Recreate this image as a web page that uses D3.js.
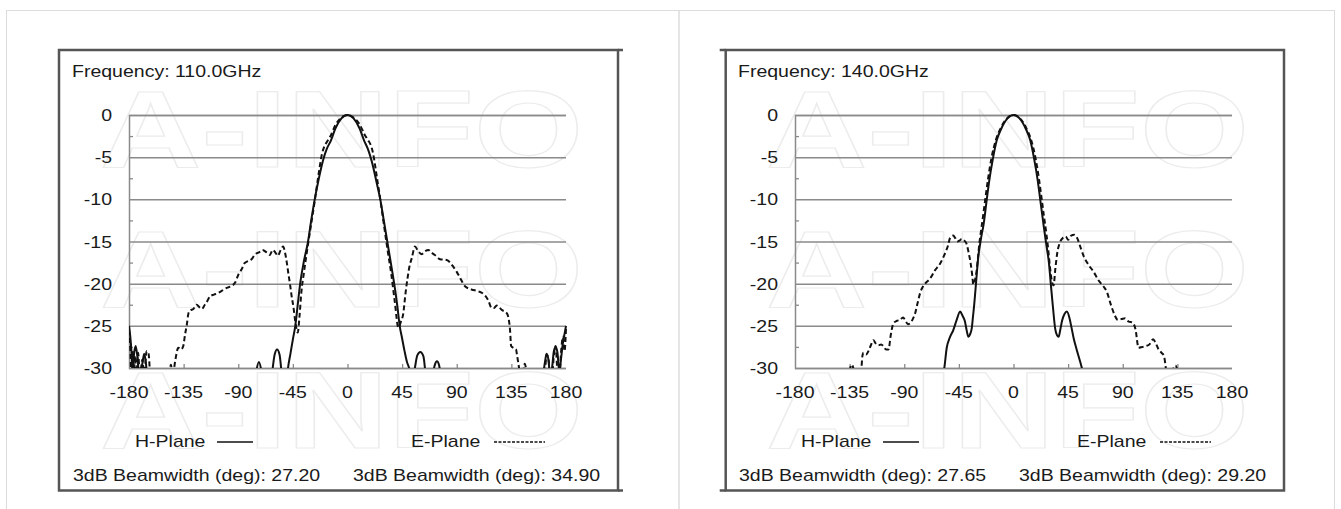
<!DOCTYPE html>
<html>
<head>
<meta charset="utf-8">
<script src="https://cdn.jsdelivr.net/npm/d3@7"></script>
<style>
  body { margin: 0; background: #fff; }
  svg text { font-family: "Liberation Sans", Arial, sans-serif; fill: #1a1a1a; }
</style>
</head>
<body>
<div id="chart"></div>
<script>
// tick values
var yTicks = [0, -5, -10, -15, -20, -25, -30];
var yMinor = [-2.5, -7.5, -12.5, -17.5, -22.5, -27.5];
var xTicks = [-180, -135, -90, -45, 0, 45, 90, 135, 180];

// panel texts
var freqLabels = ["Frequency: 110.0GHz", "Frequency: 140.0GHz"];
var legendNames = ["H-Plane", "E-Plane"];
var hBeamwidth = ["27.20", "27.65"];
var eBeamwidth = ["34.90", "29.20"];

// 110 GHz, [angle deg, dB]  (values under -30 are off the chart)
var h110 = [[-180,-25],[-179,-26.2],[-178,-28],[-177,-31],[-176,-28.6],[-174.5,-27.4],[-173,-28.8],[-171.5,-31],[-169,-29.5],[-167.5,-28.3],[-166,-29.5],[-164.5,-32],[-160,-34],
  [-80,-34],[-76,-31],[-73,-29.3],[-70,-31],[-66,-34],[-62.5,-31],[-60,-28.4],[-58,-27.8],[-56,-28.4],[-54,-31],[-51.5,-34],[-49,-30],[-47,-28.3],[-45,-26.6],[-43,-25],[-41,-22.5],[-39,-20],[-36,-17.4],[-32.5,-15],[-30,-12.6],[-27,-10],[-24,-7.8],[-20,-5.3],[-17,-4],[-13.6,-3],[-10,-1.6],[-5,-0.4],[0,0],
  [5,-0.4],[10,-1.6],[13.6,-3],[17,-4.1],[20,-5.5],[24,-8],[27,-10],[30,-12.6],[33,-15.2],[36,-17.8],[39,-20.5],[41,-22.6],[43,-25],[45,-26.5],[47,-28],[49,-29.3],[50.7,-30],[53,-32],[55.5,-30],[57.5,-28.5],[60,-28.1],[62.5,-28.6],[64.5,-31],[67,-34],[70,-31],[72,-29.6],[73.7,-29.2],[75.5,-29.7],[77.5,-32],[80,-34],
  [158,-34],[161,-31],[163,-29],[164,-28.3],[165.5,-29],[167,-31],[168.5,-30],[170,-28],[171.5,-27.5],[173,-28.2],[174.5,-30.5],[176,-28.8],[177.5,-27],[179,-25.8],[180,-25]];

var e110 = [[-180,-25.5],[-179,-27.5],[-178,-31],[-177,-28],[-176,-31],[-175,-28.6],[-174,-31],[-172.5,-28.2],[-171,-31],[-169,-29],[-167.5,-31],[-165.5,-28],[-164,-28.2],[-162.5,-31],[-160,-34],
  [-150,-34],[-147,-31],[-145.5,-29.6],[-144,-31],[-142,-29.2],[-139.4,-27.6],[-137,-27.8],[-135.3,-27.4],[-133.8,-26],[-132.5,-25],[-131,-23.5],[-129.7,-23.2],[-127,-23],[-124.2,-22.5],[-122,-22.8],[-120,-23],[-117.5,-22.5],[-116,-22.2],[-113.3,-21.5],[-110,-21.3],[-106.4,-21.1],[-103,-20.8],[-99.5,-20.5],[-96,-20.3],[-92.7,-19.9],[-89.5,-18.8],[-87.2,-18.3],[-85,-17.6],[-83,-17.4],[-79,-17.1],[-76,-16.5],[-72.9,-16.3],[-70,-16],[-66.6,-16.3],[-64,-16.6],[-61.6,-16],[-59,-16.4],[-57.5,-16.7],[-55,-16],[-53,-15.6],[-51.5,-16.3],[-50,-17.5],[-48.5,-19],[-47.4,-20],[-46,-21.5],[-44.6,-22.7],[-43,-24.5],[-41,-25.8],[-39.5,-23.8],[-38,-21],[-36,-18.8],[-33,-15.8],[-30,-13],[-27,-10.2],[-24,-7.2],[-21,-4.6],[-19,-3.7],[-17,-3.2],[-14,-2.5],[-10,-1.2],[-5,-0.3],[0,0],
  [5,-0.3],[10,-1.1],[14,-2.3],[17,-3],[19,-3.5],[21,-4.5],[24,-7.2],[27,-10],[30,-13],[33,-16],[36,-18.8],[39,-22.2],[41.9,-25.2],[44,-24.5],[46,-23.5],[47.5,-21.5],[49.3,-19.5],[51,-18],[52.9,-17],[55.6,-15.6],[58,-16.1],[61,-16.5],[63.5,-16.2],[66.6,-16],[69,-16.3],[72,-16.6],[76.2,-17.1],[81.7,-17.2],[84.5,-17.5],[87.2,-18],[90,-18.6],[92.7,-19.3],[96.8,-20.3],[102.3,-20.7],[107.8,-20.9],[113.3,-21.4],[116,-22],[118.8,-22.9],[120.5,-22.9],[122.9,-22.6],[125,-22.8],[127,-23.1],[131.2,-23.5],[132.8,-24.2],[133.9,-25.5],[134.8,-27.4],[136.5,-27.6],[138.8,-27.8],[139.8,-28.6],[140.7,-29.4],[142,-30.5],[144,-31],[146,-29.5],[148,-31],[151,-34],
  [160,-34],[162.5,-31],[164,-28.4],[165.5,-28.8],[167,-31],[168.5,-31],[170,-28.5],[171.5,-27.4],[173,-30.5],[174.5,-31],[176,-28],[177.5,-26.3],[178.8,-28],[180,-25.3]];

// 140 GHz
var h140 = [[-180,-34],[-62,-34],[-59,-31.5],[-57,-30],[-55,-27.6],[-52.5,-26.4],[-49.6,-25.5],[-46.8,-24.3],[-44,-23.3],[-42,-23.8],[-40,-24.5],[-38.5,-25.6],[-37.2,-26.3],[-35.8,-26],[-34.4,-25.3],[-33.3,-23.8],[-32.5,-22.7],[-31.6,-21.2],[-30.9,-20],[-29,-16.8],[-27.5,-15.3],[-26,-14],[-25,-13.3],[-22,-10],[-20,-7.8],[-17,-5.2],[-13.8,-3],[-10,-1.6],[-5,-0.4],[0,0],
  [5,-0.4],[10,-1.6],[13.8,-3],[17,-5.2],[20,-7.8],[22,-10],[25,-13.3],[27.5,-15.8],[29,-17.3],[30.9,-20.3],[32.5,-22.8],[34.4,-25.4],[35.8,-26.1],[37.2,-26.3],[38.5,-25.5],[40,-24.4],[42,-23.6],[44,-23.3],[46,-24],[47.5,-25],[49.6,-26.5],[52,-27.8],[55,-29.3],[57,-30.4],[60,-32.5],[63,-34],[180,-34]];

var e140 = [[-180,-34],[-140,-34],[-136,-31],[-133.3,-29.6],[-131,-30.5],[-128,-32],[-125.5,-30.5],[-124.5,-28.6],[-123.6,-28.2],[-121.5,-28.4],[-119.5,-28],[-117.5,-27.3],[-115.4,-26.7],[-113.5,-27.1],[-111.3,-27.3],[-109,-27.2],[-107.2,-27.4],[-105,-27.8],[-103,-27.8],[-101,-26],[-98.9,-24.7],[-96,-24.4],[-93.4,-24.3],[-91,-24],[-89.3,-24.3],[-87,-24.8],[-85.2,-24.7],[-83,-24.2],[-81,-23.5],[-79,-22.3],[-76.9,-21.1],[-74.8,-20.4],[-72.8,-20],[-68.7,-19.4],[-64.6,-18.4],[-60.4,-17.6],[-56.4,-16.4],[-54,-15.5],[-52.3,-14.6],[-49.6,-14.3],[-48,-14.6],[-46.3,-15],[-44.5,-14.9],[-42.7,-14.7],[-40.5,-14.9],[-38.6,-15.3],[-37,-16.3],[-35.3,-17.6],[-34,-19],[-33.1,-20.1],[-31.8,-19.6],[-30.3,-18.4],[-29.2,-16.8],[-28.1,-15.2],[-27,-14],[-25,-11.9],[-23,-9.7],[-21,-7.6],[-18,-5],[-14.6,-3],[-10,-1.4],[-5,-0.35],[0,0],
  [5,-0.35],[10,-1.4],[14.6,-3],[18,-5],[21,-7.6],[23,-9.7],[25,-11.9],[27,-14],[28.5,-15.8],[30,-18],[31.5,-19.6],[33,-20.2],[34.5,-18.2],[36,-16.4],[38,-15.2],[40.5,-14.6],[43,-14.4],[45,-14.8],[47.5,-14.3],[50,-14.2],[52.5,-14.6],[55,-15.6],[58,-16.8],[62,-17.8],[66,-18.6],[70,-19.6],[74,-20.3],[77,-21],[80,-22.4],[83,-23.6],[86,-24.3],[89,-24.2],[92,-24.1],[95,-24.5],[98,-24.6],[100.5,-25.4],[103,-27.6],[106,-27.5],[109,-27.4],[112,-27.2],[115,-26.6],[117,-27],[119.5,-27.8],[122,-28.2],[124,-28.6],[126,-30.5],[128,-31.5],[131,-30.3],[133.5,-29.7],[135,-30.3],[137,-32],[140,-34],[180,-34]];

var hSeries = [h110, h140];
var eSeries = [e110, e140];

var svgWidth = 1341, svgHeight = 509;
var svg = d3.select('#chart').append('svg')
  .attr('width', svgWidth)
  .attr('height', svgHeight);

// outer page frame + divider
svg.append('rect')
  .attr('x', 6.5).attr('y', 10.5).attr('width', 1328).attr('height', 520)
  .attr('fill', 'none').attr('stroke', '#dcdcdc').attr('stroke-width', 1);
svg.append('line')
  .attr('x1', 679).attr('x2', 679).attr('y1', 10).attr('y2', 509)
  .attr('stroke', '#dcdcdc').attr('stroke-width', 1.5);

var sx = 1.22; // text in the picture is stretched sideways

function txt(g, x, y, s, anchor) {
  return g.append('text')
    .attr('transform', 'translate(' + x + ',' + y + ') scale(' + sx + ',1)')
    .attr('text-anchor', anchor || 'start')
    .attr('font-size', 16)
    .text(s);
}

var plot = {left: 129, right: 566, top: 115, bottom: 368};
var panelShift = [0, 666];

panelShift.forEach(function(dx, i) {
  var g = svg.append('g').attr('transform', 'translate(' + dx + ',0)');

  var x = d3.scaleLinear().domain([-180, 180]).range([plot.left, plot.right]);
  var y = d3.scaleLinear().domain([-30, 0]).range([plot.bottom, plot.top]);

  // watermark
  [167, 307, 448].forEach(function(by) {
    g.append('text')
      .attr('x', 100).attr('y', by)
      .attr('font-size', 109).attr('font-weight', 'bold')
      .attr('textLength', 483).attr('lengthAdjust', 'spacingAndGlyphs')
      .style('fill', 'none').attr('stroke', '#ececec').attr('stroke-width', 1.2)
      .text('A-INFO');
  });

  // box
  var boxL = i === 0 ? 59 : 59.7, boxR = 618, boxT = 50, boxB = 490.5;
  g.append('rect')
    .attr('x', boxL).attr('y', boxT).attr('width', boxR - boxL).attr('height', boxB - boxT)
    .attr('fill', 'none').attr('stroke', '#555').attr('stroke-width', 2.5);
  var ext = i === 0 ? [boxR, boxR + 5] : [boxL - 6, boxL];
  [boxT, boxB].forEach(function(yy) {
    g.append('line').attr('x1', ext[0]).attr('x2', ext[1]).attr('y1', yy).attr('y2', yy)
      .attr('stroke', '#555').attr('stroke-width', 2.5);
  });

  // gridlines
  g.append('g')
    .attr('transform', 'translate(' + plot.left + ',0)')
    .call(d3.axisRight(y).tickValues(yTicks).tickSize(plot.right - plot.left).tickFormat(''))
    .call(function(a) {
      a.select('.domain').attr('stroke', '#8a8a8a').attr('stroke-width', 1.5);
      a.selectAll('.tick line').attr('stroke', '#8a8a8a').attr('stroke-width', 1.5);
    });
  // minor y ticks
  g.append('g')
    .attr('transform', 'translate(' + plot.left + ',0)')
    .call(d3.axisRight(y).tickValues(yMinor).tickSize(4).tickFormat(''))
    .call(function(a) {
      a.select('.domain').remove();
      a.selectAll('.tick line').attr('stroke', '#8a8a8a').attr('stroke-width', 1.3);
    });
  // x ticks on bottom line
  g.append('g')
    .attr('transform', 'translate(0,' + plot.bottom + ')')
    .call(d3.axisTop(x).tickValues(xTicks.slice(1, -1)).tickSize(4).tickFormat(''))
    .call(function(a) {
      a.select('.domain').remove();
      a.selectAll('.tick line').attr('stroke', '#8a8a8a').attr('stroke-width', 1.3);
    });

  // tick labels
  yTicks.forEach(function(v) { txt(g, 112, y(v) + 6, String(v), 'end'); });
  xTicks.forEach(function(v) { txt(g, x(v), 398, String(v), 'middle'); });

  // curves
  var clipId = 'clip' + i;
  g.append('clipPath').attr('id', clipId).append('rect')
    .attr('x', plot.left).attr('y', plot.top - 6)
    .attr('width', plot.right - plot.left + 1).attr('height', plot.bottom - plot.top + 6);

  var line = d3.line()
    .x(function(d) { return x(d[0]); })
    .y(function(d) { return y(d[1]); })
    .curve(d3.curveMonotoneX);

  g.append('path').datum(eSeries[i])
    .attr('clip-path', 'url(#' + clipId + ')')
    .attr('d', line).attr('fill', 'none')
    .attr('stroke', '#111').attr('stroke-width', 2).attr('stroke-dasharray', '5,3');
  g.append('path').datum(hSeries[i])
    .attr('clip-path', 'url(#' + clipId + ')')
    .attr('d', line).attr('fill', 'none')
    .attr('stroke', '#111').attr('stroke-width', 2);

  // texts
  txt(g, 72, 77, freqLabels[i]);
  txt(g, 135, 447, legendNames[0]);
  g.append('line').attr('x1', 217).attr('x2', 253).attr('y1', 442).attr('y2', 442)
    .attr('stroke', '#111').attr('stroke-width', 1.6);
  txt(g, 411, 447, legendNames[1]);
  g.append('line').attr('x1', 494).attr('x2', 545).attr('y1', 442).attr('y2', 442)
    .attr('stroke', '#111').attr('stroke-width', 1.6).attr('stroke-dasharray', '3,1.5');
  txt(g, 73, 481, '3dB Beamwidth (deg): ' + hBeamwidth[i]);
  txt(g, 353, 481, '3dB Beamwidth (deg): ' + eBeamwidth[i]);
});
</script>
</body>
</html>
